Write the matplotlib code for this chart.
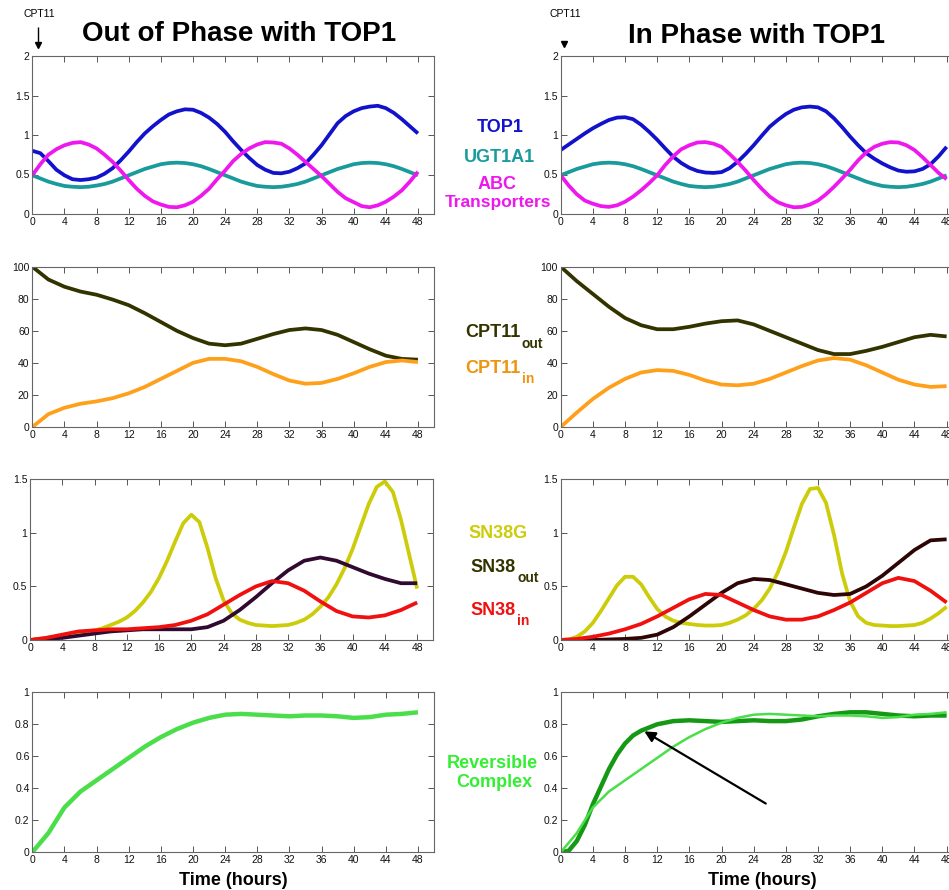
import numpy as np
import matplotlib
matplotlib.use('Agg')
import matplotlib.pyplot as plt
from matplotlib.lines import Line2D

plt.rcParams['font.family'] = ['Liberation Sans', 'DejaVu Sans']
plt.rcParams['lines.solid_joinstyle'] = 'round'
plt.rcParams['lines.solid_capstyle'] = 'butt'

W, H = 949, 890

# ---------------- data ----------------
t2 = list(range(0, 49, 2))
t1 = list(range(0, 49))
x_ticks = list(range(0, 49, 4))

# Panel 1: clock-controlled proteins (hourly readings)
top1_out = [0.80, 0.77, 0.67, 0.56, 0.49, 0.44, 0.43, 0.44, 0.46, 0.51, 0.58, 0.68, 0.79,
            0.91, 1.02, 1.11, 1.19, 1.26, 1.30, 1.325, 1.32, 1.28, 1.22, 1.14, 1.04,
            0.92, 0.81, 0.71, 0.62, 0.56, 0.52, 0.515, 0.535, 0.58, 0.64, 0.75, 0.87,
            1.01, 1.15, 1.24, 1.30, 1.34, 1.36, 1.37, 1.34, 1.28, 1.20, 1.11, 1.02]
ugt_out = [0.49, 0.45, 0.41, 0.38, 0.355, 0.345, 0.34, 0.345, 0.36, 0.38, 0.41, 0.45, 0.49,
           0.53, 0.57, 0.60, 0.63, 0.645, 0.65, 0.645, 0.63, 0.605, 0.57, 0.53, 0.49,
           0.45, 0.41, 0.38, 0.355, 0.345, 0.34, 0.345, 0.36, 0.38, 0.41, 0.45, 0.49,
           0.53, 0.57, 0.60, 0.63, 0.645, 0.65, 0.645, 0.63, 0.605, 0.57, 0.53, 0.49]
abc_out = [0.49, 0.63, 0.75, 0.82, 0.87, 0.90, 0.91, 0.88, 0.83, 0.75, 0.66, 0.55, 0.43,
           0.32, 0.23, 0.16, 0.12, 0.09, 0.085, 0.11, 0.155, 0.23, 0.32, 0.44, 0.55,
           0.67, 0.76, 0.83, 0.88, 0.91, 0.905, 0.89, 0.83, 0.75, 0.66, 0.57, 0.48,
           0.38, 0.28, 0.20, 0.15, 0.10, 0.085, 0.11, 0.155, 0.22, 0.30, 0.41, 0.535]

top1_in = [0.81, 0.88, 0.95, 1.02, 1.085, 1.14, 1.19, 1.22, 1.225, 1.20, 1.13, 1.04, 0.94,
           0.83, 0.725, 0.645, 0.585, 0.545, 0.525, 0.52, 0.53, 0.58, 0.66, 0.76, 0.87,
           0.99, 1.105, 1.19, 1.265, 1.32, 1.35, 1.36, 1.35, 1.30, 1.21, 1.10, 0.98,
           0.87, 0.77, 0.70, 0.64, 0.59, 0.55, 0.535, 0.54, 0.57, 0.63, 0.73, 0.85]
ugt_in = [0.49, 0.53, 0.57, 0.60, 0.63, 0.645, 0.65, 0.645, 0.63, 0.605, 0.57, 0.53, 0.49,
          0.45, 0.41, 0.38, 0.355, 0.345, 0.34, 0.345, 0.36, 0.38, 0.41, 0.45, 0.49,
          0.53, 0.57, 0.60, 0.63, 0.645, 0.65, 0.645, 0.63, 0.605, 0.57, 0.53, 0.49,
          0.45, 0.41, 0.38, 0.355, 0.345, 0.34, 0.345, 0.36, 0.38, 0.41, 0.45, 0.49]
abc_in = [0.49, 0.36, 0.25, 0.17, 0.13, 0.10, 0.09, 0.11, 0.155, 0.22, 0.30, 0.39, 0.49,
          0.62, 0.73, 0.82, 0.87, 0.905, 0.91, 0.89, 0.85, 0.76, 0.66, 0.55, 0.43,
          0.32, 0.22, 0.15, 0.11, 0.085, 0.09, 0.12, 0.17, 0.25, 0.345, 0.45, 0.56,
          0.68, 0.78, 0.85, 0.89, 0.91, 0.905, 0.87, 0.81, 0.72, 0.62, 0.52, 0.44]

# Panel 2: CPT11 (every 2 h)
cpt_out_out = [100, 92, 87.5, 84.5, 82.5, 79.5, 76, 71, 65.5, 60, 55.5, 52, 51,
               52, 55, 58, 60.5, 61.5, 60.5, 57.5, 53, 48.5, 44.5, 42.5, 42]
cpt_in_out = [0, 8, 12, 14.5, 16, 18, 21, 25, 30, 35, 40, 42.5, 42.5,
              41, 37.5, 33, 29, 27, 27.5, 30, 33.5, 37.5, 40.5, 41.5, 40.5]
cpt_out_in = [100, 91, 83, 75, 68, 63.5, 61, 61, 62.5, 64.5, 66, 66.5, 64,
              60, 56, 52, 48, 45.5, 45.5, 47.5, 50, 53, 56, 57.5, 56.5]
cpt_in_in = [0, 9, 17.5, 24.5, 30, 34, 35.5, 35, 32.5, 29, 26.5, 26, 27,
             30, 34, 38, 41.5, 43, 42, 38.5, 34, 29.5, 26.5, 25, 25.5]

# Panel 3: SN38 species
sn38g_out = [0.00, 0.01, 0.02, 0.03, 0.04, 0.05, 0.06, 0.08, 0.09, 0.11, 0.14, 0.17, 0.21,
             0.27, 0.35, 0.45, 0.58, 0.74, 0.92, 1.09, 1.17, 1.10, 0.86, 0.58, 0.37,
             0.25, 0.19, 0.16, 0.14, 0.135, 0.13, 0.135, 0.14, 0.16, 0.19, 0.24, 0.31,
             0.40, 0.52, 0.67, 0.85, 1.06, 1.27, 1.43, 1.48, 1.38, 1.12, 0.80, 0.48]
sn38o_out = [0, 0.01, 0.02, 0.04, 0.06, 0.08, 0.09, 0.10, 0.10, 0.10, 0.10, 0.12, 0.18,
             0.28, 0.40, 0.53, 0.65, 0.74, 0.77, 0.74, 0.68, 0.62, 0.57, 0.53, 0.53]
sn38i_out = [0, 0.02, 0.05, 0.08, 0.09, 0.10, 0.10, 0.11, 0.12, 0.14, 0.18, 0.24, 0.33,
             0.42, 0.50, 0.55, 0.53, 0.46, 0.36, 0.27, 0.22, 0.21, 0.23, 0.28, 0.35]

sn38g_in = [0.00, 0.005, 0.03, 0.08, 0.16, 0.27, 0.39, 0.51, 0.59, 0.59, 0.52, 0.40, 0.29,
            0.22, 0.18, 0.16, 0.15, 0.14, 0.135, 0.135, 0.14, 0.16, 0.19, 0.23, 0.29,
            0.37, 0.48, 0.63, 0.82, 1.05, 1.27, 1.41, 1.42, 1.28, 0.98, 0.62, 0.36,
            0.22, 0.16, 0.14, 0.135, 0.13, 0.13, 0.135, 0.14, 0.16, 0.20, 0.25, 0.31]
sn38o_in = [0, 0, 0, 0.005, 0.01, 0.02, 0.05, 0.12, 0.22, 0.33, 0.44, 0.53, 0.57,
            0.56, 0.52, 0.48, 0.44, 0.42, 0.43, 0.50, 0.60, 0.72, 0.84, 0.93, 0.94]
sn38i_in = [0, 0.01, 0.03, 0.06, 0.10, 0.15, 0.22, 0.30, 0.38, 0.43, 0.42, 0.35, 0.28,
            0.22, 0.19, 0.19, 0.22, 0.28, 0.35, 0.44, 0.53, 0.58, 0.55, 0.46, 0.35]

# Panel 4: reversible complex
rc_ref = [0, 0.12, 0.28, 0.38, 0.45, 0.52, 0.59, 0.66, 0.72, 0.77, 0.81, 0.84, 0.86,
          0.865, 0.86, 0.855, 0.85, 0.855, 0.855, 0.85, 0.84, 0.845, 0.86, 0.865, 0.875]
t_rc = [0, 1, 2, 3, 4, 5, 6, 7, 8, 9, 10, 12, 14, 16, 18, 20, 22, 24, 26, 28, 30,
        32, 34, 36, 38, 40, 42, 44, 46, 48]
rc_in = [0, 0.01, 0.07, 0.17, 0.30, 0.41, 0.52, 0.61, 0.68, 0.73, 0.76, 0.80, 0.82,
         0.825, 0.82, 0.815, 0.82, 0.825, 0.82, 0.82, 0.83, 0.85, 0.865, 0.875, 0.875,
         0.865, 0.855, 0.85, 0.855, 0.855]
arrow_tail = (25.8, 0.296)
arrow_head = (10.1, 0.765)

# ---------------- colours ----------------
C_TOP1 = '#1212cc'
C_UGT = '#1a9b9b'
C_ABC = '#ee18ee'
C_COUT = '#333300'
C_CIN = '#ffa01a'
C_G = '#cccc0a'
C_SOUT_L = '#300a30'
C_SOUT_R = '#2e0505'
C_SIN = '#f01010'
C_LG = '#4ade4a'
C_DG = '#159915'

fig = plt.figure(figsize=(W / 100, H / 100), dpi=100)


def ax_at(x0, y0, x1, y1):
    return fig.add_axes([x0 / W, 1 - y1 / H, (x1 - x0) / W, (y1 - y0) / H])


def style(ax, ymax, yticks, ylabels):
    ax.set_xlim(0, 50)
    ax.set_ylim(0, ymax)
    ax.set_xticks(x_ticks)
    ax.set_xticklabels([str(v) for v in x_ticks])
    ax.set_yticks(yticks)
    ax.set_yticklabels(ylabels)
    ax.tick_params(direction='in', top=True, right=True, length=4, width=0.7,
                   labelsize=7.5, pad=2, color='#555555', labelcolor='#111111')
    for s in ax.spines.values():
        s.set_color('#666666')
        s.set_linewidth(0.8)


def ftext(x, y, s, **kw):
    fig.text(x / W, 1 - y / H, s, **kw)


LW = 2.7
y1t = [0, 0.5, 1, 1.5, 2]
y1l = ['0', '0.5', '1', '1.5', '2']
y2t = [0, 20, 40, 60, 80, 100]
y2l = [str(v) for v in y2t]
y3t = [0, 0.5, 1, 1.5]
y3l = ['0', '0.5', '1', '1.5']
y4t = [0, 0.2, 0.4, 0.6, 0.8, 1]
y4l = ['0', '0.2', '0.4', '0.6', '0.8', '1']

# ---- left column ----
a = ax_at(32.3, 56, 434, 214)
a.plot(t1, ugt_out, color=C_UGT, lw=LW)
a.plot(t1, top1_out, color=C_TOP1, lw=LW)
a.plot(t1, abc_out, color=C_ABC, lw=LW)
style(a, 2, y1t, y1l)

a = ax_at(32.3, 266.7, 434, 427)
a.plot(t2, cpt_out_out, color=C_COUT, lw=LW)
a.plot(t2, cpt_in_out, color=C_CIN, lw=LW)
style(a, 100, y2t, y2l)

a = ax_at(30, 479.3, 433.3, 640)
a.plot(t1, sn38g_out, color=C_G, lw=LW)
a.plot(t2, sn38o_out, color=C_SOUT_L, lw=LW)
a.plot(t2, sn38i_out, color=C_SIN, lw=LW)
style(a, 1.5, y3t, y3l)

a = ax_at(32.3, 692.3, 434, 852.3)
a.plot(t2, rc_ref, color=C_LG, lw=3.2)
style(a, 1, y4t, y4l)

# ---- right column ----
a = ax_at(560.7, 56, 962.7, 214)
a.plot(t1, ugt_in, color=C_UGT, lw=LW)
a.plot(t1, top1_in, color=C_TOP1, lw=LW)
a.plot(t1, abc_in, color=C_ABC, lw=LW)
style(a, 2, y1t, y1l)

a = ax_at(560.7, 266.7, 962.7, 427)
a.plot(t2, cpt_out_in, color=C_COUT, lw=LW)
a.plot(t2, cpt_in_in, color=C_CIN, lw=LW)
style(a, 100, y2t, y2l)

a = ax_at(560.7, 479.3, 962.7, 640)
a.plot(t1, sn38g_in, color=C_G, lw=LW)
a.plot(t2, sn38o_in, color=C_SOUT_R, lw=LW)
a.plot(t2, sn38i_in, color=C_SIN, lw=LW)
style(a, 1.5, y3t, y3l)

a = ax_at(560.7, 692.3, 962.7, 852.3)
a.plot(t_rc, rc_in, color=C_DG, lw=3.2)
a.plot(t2, rc_ref, color=C_LG, lw=1.8)
a.annotate('', xy=arrow_head, xytext=arrow_tail,
           arrowprops=dict(arrowstyle='-|>', color='black', lw=1.6, mutation_scale=16))
style(a, 1, y4t, y4l)

# ---- titles & labels ----
ftext(239, 41, 'Out of Phase with TOP1', ha='center', va='baseline', fontsize=20, fontweight='bold')
ftext(756, 43, 'In Phase with TOP1', ha='center', va='baseline', fontsize=20, fontweight='bold')

ftext(39, 17, 'CPT11', ha='center', va='baseline', fontsize=7.5)
ftext(565, 17, 'CPT11', ha='center', va='baseline', fontsize=7.5)
fig.add_artist(Line2D([37.7 / W, 37.7 / W], [1 - 27 / H, 1 - 45 / H], color='black', lw=1.0))
fig.add_artist(Line2D([37.7 / W], [1 - 45 / H], marker='v', markersize=5, color='black', lw=0))
fig.add_artist(Line2D([564 / W], [1 - 44 / H], marker='v', markersize=5, color='black', lw=0))

bold = dict(fontsize=13, fontweight='bold', va='baseline')
ftext(500, 132.3, 'TOP1', ha='center', color=C_TOP1, **bold)
ftext(499, 161.7, 'UGT1A1', ha='center', color=C_UGT, **bold)
ftext(497, 189, 'ABC', ha='center', color=C_ABC, **bold)
ftext(498, 206.5, 'Transporters', ha='center', color=C_ABC, fontsize=12.5,
      fontweight='bold', va='baseline')

sub = dict(fontsize=10, fontweight='bold', va='baseline')
ftext(521, 337.3, 'CPT11', ha='right', color=C_COUT, **bold)
ftext(522, 347.5, 'out', ha='left', color=C_COUT, **sub)
ftext(521, 373.3, 'CPT11', ha='right', color='#ee9410', **bold)
ftext(522, 383.5, 'in', ha='left', color='#ee9410', **sub)

ftext(498, 538, 'SN38G', ha='center', color=C_G, **bold)
ftext(516, 572, 'SN38', ha='right', color=C_COUT, **bold)
ftext(517, 582, 'out', ha='left', color=C_COUT, **sub)
ftext(516, 615, 'SN38', ha='right', color=C_SIN, **bold)
ftext(517, 625, 'in', ha='left', color=C_SIN, **sub)

ftext(492, 768, 'Reversible', ha='center', color='#33ee33', **bold)
ftext(494, 787, 'Complex', ha='center', color='#33ee33', **bold)

ftext(233, 885, 'Time (hours)', ha='center', va='baseline', fontsize=13, fontweight='bold')
ftext(762, 885, 'Time (hours)', ha='center', va='baseline', fontsize=13, fontweight='bold')

fig.savefig('out.png', dpi=100)
